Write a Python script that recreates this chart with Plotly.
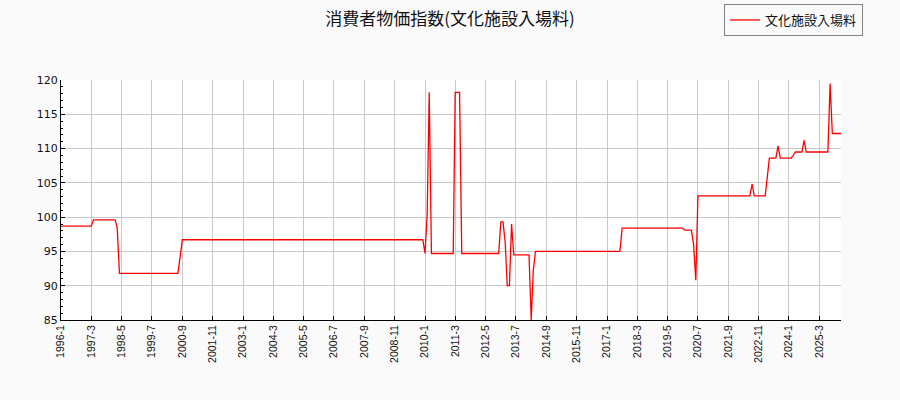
import plotly.graph_objects as go

# Change points of the monthly series (value holds between listed months)
dates = [
    "1996-01", "1997-03", "1997-04", "1998-02", "1998-03", "1998-04",
    "2000-07", "2000-08", "2000-09", "2009-12", "2010-01", "2010-02",
    "2010-03", "2010-04", "2011-02", "2011-03", "2011-05", "2011-06",
    "2012-11", "2012-12", "2013-01", "2013-02", "2013-03", "2013-04",
    "2013-05", "2013-06", "2014-01", "2014-02", "2014-03", "2014-04",
    "2017-07", "2017-08", "2019-12", "2020-01", "2020-04", "2020-05",
    "2020-06", "2020-07", "2022-07", "2022-08", "2022-09", "2023-02",
    "2023-03", "2023-04", "2023-07", "2023-08", "2023-09", "2024-02",
    "2024-03", "2024-04", "2024-07", "2024-08", "2024-09", "2025-07",
    "2025-08", "2025-09", "2026-01",
]
values = [
    98.7, 98.7, 99.6, 99.6, 98.4, 91.8,
    91.8, 94.5, 96.7, 96.7, 94.7, 100.6,
    118.2, 94.7, 94.7, 118.2, 118.2, 94.7,
    94.7, 99.3, 99.3, 96.2, 90.0, 90.0,
    99.0, 94.5, 94.5, 85.0, 92.0, 95.0,
    95.0, 98.4, 98.4, 98.1, 98.1, 96.0,
    90.8, 103.1, 103.1, 104.8, 103.1, 103.1,
    105.6, 108.6, 108.6, 110.4, 108.6, 108.6,
    109.0, 109.5, 109.5, 111.2, 109.5, 109.5,
    119.5, 112.2, 112.2,
]

tick_labels = [
    "1996-1", "1997-3", "1998-5", "1999-7", "2000-9", "2001-11", "2003-1",
    "2004-3", "2005-5", "2006-7", "2007-9", "2008-11", "2010-1", "2011-3",
    "2012-5", "2013-7", "2014-9", "2015-11", "2017-1", "2018-3", "2019-5",
    "2020-7", "2021-9", "2022-11", "2024-1", "2025-3",
]
tick_vals = []
for t in tick_labels:
    y, m = t.split("-")
    tick_vals.append(f"{y}-{int(m):02d}-01")

series_name = "文化施設入場料"
title_text = "消費者物価指数(文化施設入場料)"

x_dates = [d + "-01" for d in dates]

fig = go.Figure()
fig.add_trace(go.Scatter(
    x=x_dates, y=values, mode="lines", name=series_name,
    line=dict(color="#ff0000", width=1.3),
    showlegend=True,
))

grid = "#c8c8c8"
fig.update_layout(
    width=900, height=400,
    margin=dict(l=61, r=59, t=80, b=80, autoexpand=False),
    paper_bgcolor="#fafafa",
    plot_bgcolor="#ffffff",
    title=dict(
        text=title_text, x=0.5, xref="container", xanchor="center",
        y=1 - 19 / 400, yref="container", yanchor="middle",
        font=dict(family="Noto Sans CJK JP", size=17, color="#111111"),
    ),
    legend=dict(
        x=(724 - 61) / 780, y=1 + 76 / 240, xanchor="left", yanchor="top",
        bordercolor="#808080", borderwidth=1, bgcolor="rgba(0,0,0,0)",
        font=dict(family="Noto Sans CJK JP", size=13, color="#111111"),
        itemwidth=30, tracegroupgap=0,
    ),
    xaxis=dict(
        type="date",
        range=["1996-01-01", "2026-01-01"],
        tickvals=tick_vals, ticktext=tick_labels, tickangle=-90,
        tickfont=dict(family="Liberation Sans", size=10.5, color="#111111"),
        showgrid=True, gridcolor=grid, gridwidth=1,
        ticks="inside", ticklen=4, tickcolor="#000000",
        showline=True, linecolor="#000000", linewidth=1,
        zeroline=False,
    ),
    yaxis=dict(
        range=[85, 120], dtick=5, tick0=85,
        tickfont=dict(family="DejaVu Sans", size=11, color="#111111"),
        showgrid=True, gridcolor=grid, gridwidth=1,
        ticks="inside", ticklen=4, tickcolor="#000000",
        minor=dict(dtick=1, ticks="inside", ticklen=2, tickcolor="#000000", showgrid=False),
        showline=True, linecolor="#000000", linewidth=1,
        zeroline=False,
    ),
)

fig.write_html(
    "out.html",
    config={"displayModeBar": False},
    post_script="document.body.style.margin='0';",
)
